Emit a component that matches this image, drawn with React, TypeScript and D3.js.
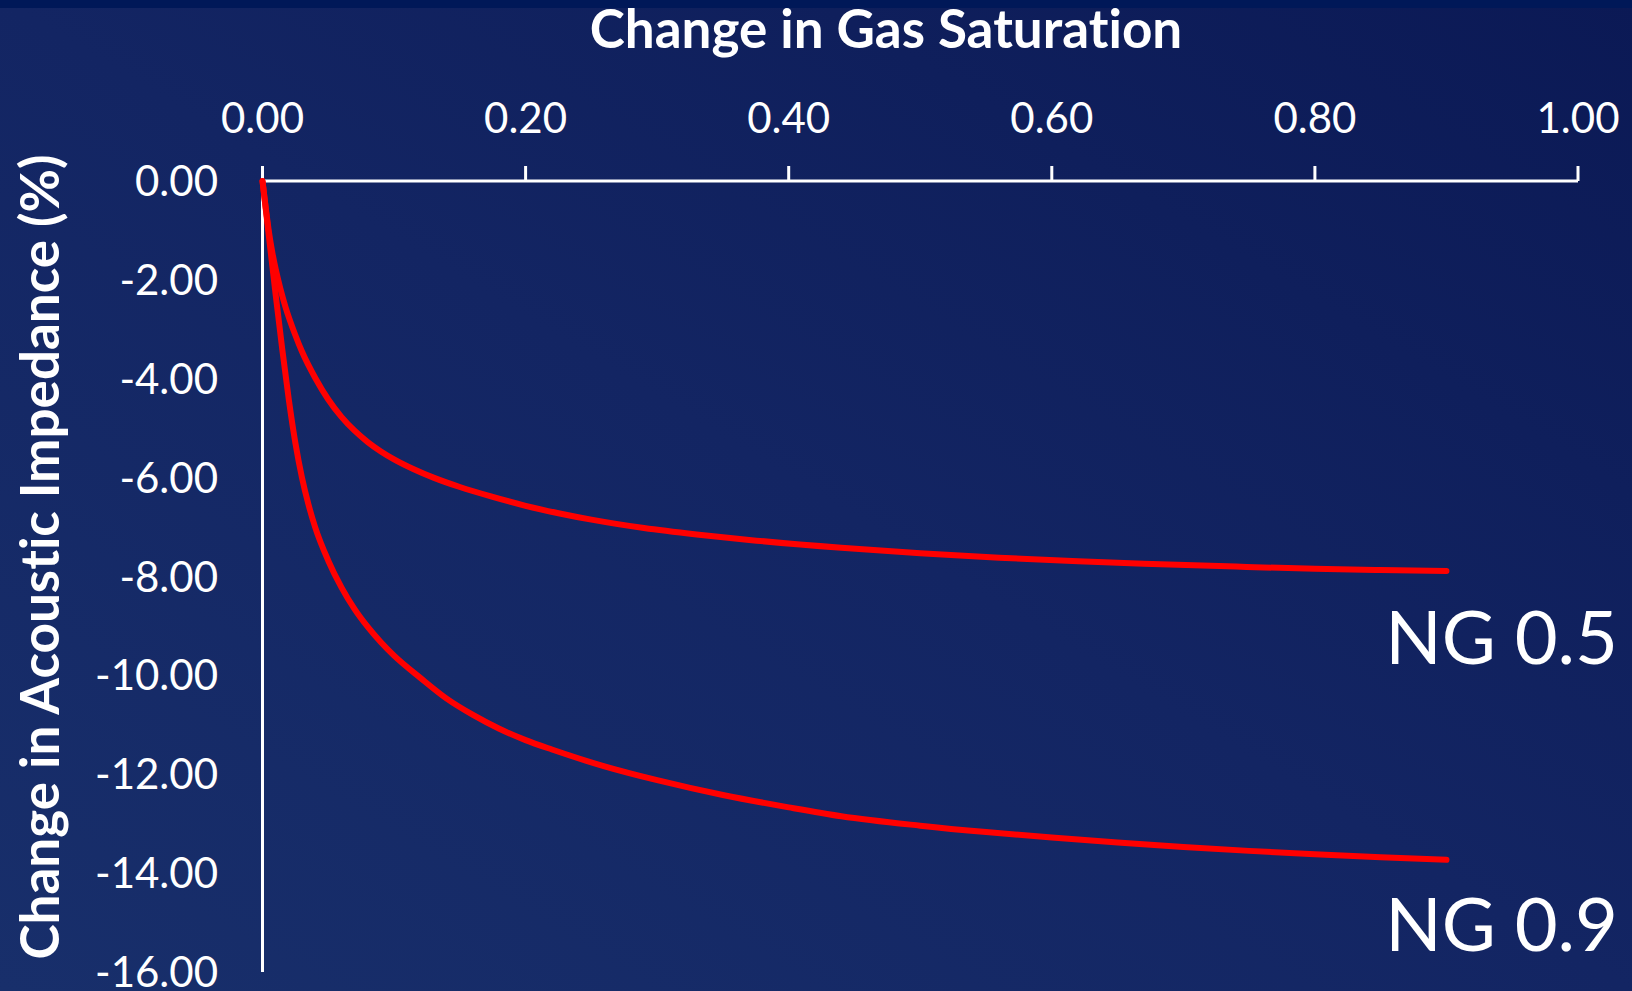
import React from "react";
import * as d3 from "d3";

const saturationNG05 = [0, 0.0025, 0.005, 0.0075, 0.01, 0.0135, 0.0175, 0.025, 0.03, 0.04, 0.05, 0.06, 0.07, 0.08, 0.09, 0.10, 0.115, 0.13, 0.15, 0.175, 0.20, 0.225, 0.25, 0.29, 0.33, 0.37, 0.44, 0.50, 0.56, 0.62, 0.67, 0.74, 0.80, 0.85, 0.90];
const valuesNG05 = [0, -0.55, -1.05, -1.45, -1.78, -2.17, -2.55, -3.12, -3.45, -3.98, -4.42, -4.77, -5.05, -5.28, -5.47, -5.63, -5.83, -6.0, -6.19, -6.39, -6.57, -6.72, -6.85, -7.02, -7.15, -7.26, -7.42, -7.53, -7.62, -7.69, -7.74, -7.8, -7.845, -7.87, -7.89];

const saturationNG09 = [0, 0.005, 0.01, 0.015, 0.02, 0.025, 0.03, 0.035, 0.04, 0.05, 0.06, 0.07, 0.08, 0.09, 0.10, 0.12, 0.14, 0.16, 0.18, 0.20, 0.22, 0.26, 0.30, 0.35, 0.40, 0.44, 0.50, 0.55, 0.60, 0.65, 0.70, 0.75, 0.80, 0.85, 0.90];
const valuesNG09 = [0, -1.15, -2.3, -3.4, -4.42, -5.3, -6.0, -6.55, -7.0, -7.68, -8.22, -8.66, -9.02, -9.33, -9.6, -10.05, -10.47, -10.8, -11.08, -11.31, -11.5, -11.84, -12.12, -12.42, -12.67, -12.85, -13.04, -13.17, -13.28, -13.38, -13.47, -13.55, -13.62, -13.68, -13.73];

const xTicks = [0, 0.2, 0.4, 0.6, 0.8, 1.0];
const yTicks = [0, -2, -4, -6, -8, -10, -12, -14, -16];

const seriesLabels = ["NG 0.5", "NG 0.9"];
const xTitle = "Change in Gas Saturation";
const yTitle = "Change in Acoustic Impedance (%)";

const W = 1632;
const H = 991;
const FONT = "Lato, 'Open Sans', 'DejaVu Sans', sans-serif";
const noLig = { fontVariantLigatures: "none", fontFeatureSettings: '"liga" 0, "clig" 0' } as React.CSSProperties;

export default function App() {
  const x = d3.scaleLinear().domain([0, 1]).range([262.5, 1578]);
  const y = d3.scaleLinear().domain([0, -16]).range([181, 972]);

  const line = d3
    .line<[number, number]>()
    .x((d) => x(d[0]))
    .y((d) => y(d[1]))
    .curve(d3.curveMonotoneX);

  const s1 = saturationNG05.map((s, i) => [s, valuesNG05[i]] as [number, number]);
  const s2 = saturationNG09.map((s, i) => [s, valuesNG09[i]] as [number, number]);

  const tickLen = 15;

  return (
    <svg
      width={W}
      height={H}
      style={{ position: "absolute", left: 0, top: 0, display: "block" }}
    >
      <defs>
        <linearGradient id="bg" x1="0" y1="1" x2="1" y2="0">
          <stop offset="0" stopColor="#182f6b" />
          <stop offset="0.5" stopColor="#132563" />
          <stop offset="1" stopColor="#0b1955" />
        </linearGradient>
      </defs>
      <rect x={0} y={0} width={W} height={H} fill="url(#bg)" />
      <rect x={0} y={0} width={W} height={8} fill="#001858" />

      {/* title */}
      <text x={886} y={48} textAnchor="middle" fill="#fff" fontFamily={FONT} fontWeight={700} fontSize={53} style={noLig}>
        {xTitle}
      </text>

      {/* y title */}
      <text
        transform={`translate(59, 557) rotate(-90)`}
        textAnchor="middle"
        fill="#fff"
        fontFamily={FONT}
        fontWeight={700}
        fontSize={53}
        style={noLig}
      >
        {yTitle}
      </text>

      {/* x axis (top) */}
      <line x1={x(0)} x2={x(1)} y1={y(0)} y2={y(0)} stroke="#fff" strokeWidth={3} />
      {xTicks.map((t) => (
        <g key={"xt" + t}>
          <line x1={x(t)} x2={x(t)} y1={y(0)} y2={y(0) - tickLen} stroke="#fff" strokeWidth={3} />
          <text x={x(t)} y={133} textAnchor="middle" fill="#fff" fontFamily={FONT} fontSize={42}>
            {t.toFixed(2)}
          </text>
        </g>
      ))}

      {/* y axis */}
      <line x1={x(0)} x2={x(0)} y1={y(0) - tickLen} y2={y(-16)} stroke="#fff" strokeWidth={3} />
      {yTicks.map((t) => (
        <text key={"yt" + t} x={218} y={y(t) + 15} textAnchor="end" fill="#fff" fontFamily={FONT} fontSize={42}>
          {t.toFixed(2)}
        </text>
      ))}

      {/* series */}
      <path d={line(s1) || ""} fill="none" stroke="#ff0000" strokeWidth={6} strokeLinecap="round" strokeLinejoin="round" />
      <path d={line(s2) || ""} fill="none" stroke="#ff0000" strokeWidth={6} strokeLinecap="round" strokeLinejoin="round" />

      {/* labels */}
      <text x={1618} y={664} textAnchor="end" fill="#fff" fontFamily={FONT} fontSize={74}>
        {seriesLabels[0]}
      </text>
      <text x={1618} y={951} textAnchor="end" fill="#fff" fontFamily={FONT} fontSize={74}>
        {seriesLabels[1]}
      </text>
    </svg>
  );
}
